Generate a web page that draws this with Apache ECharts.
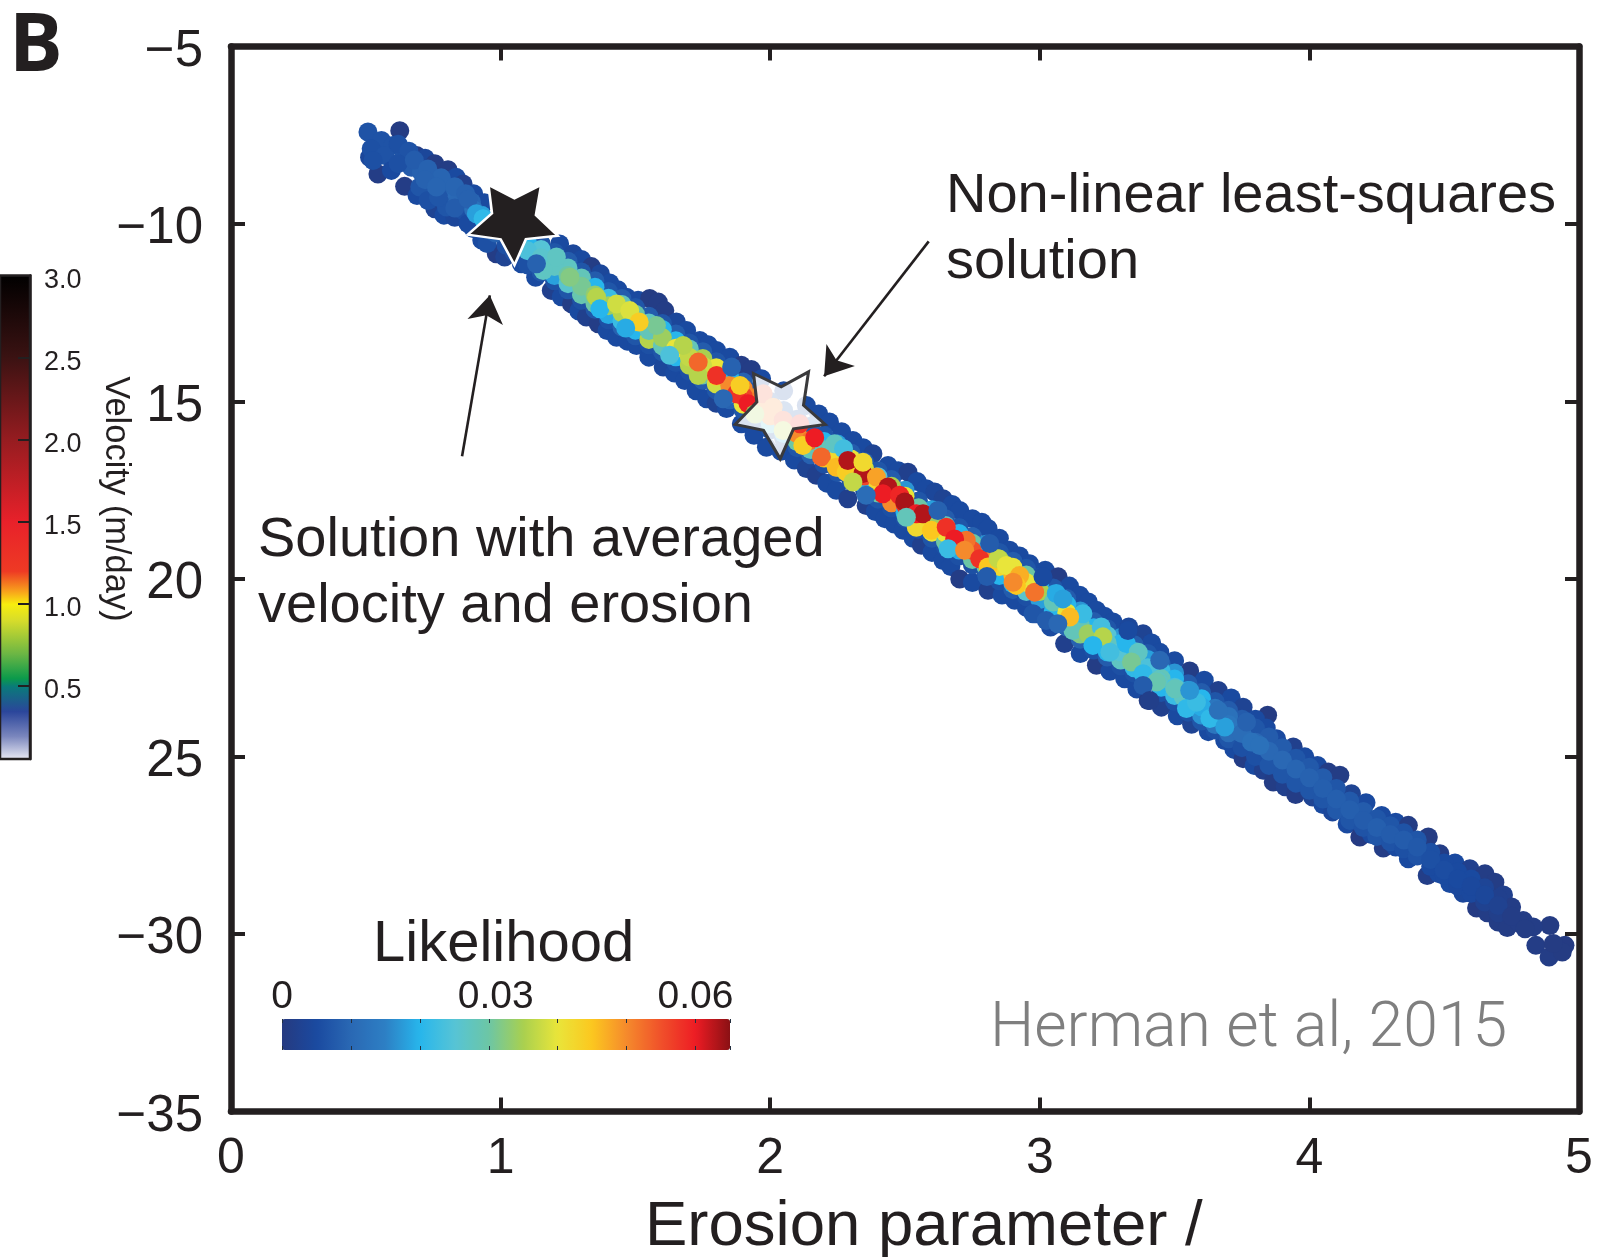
<!DOCTYPE html>
<html>
<head>
<meta charset="utf-8">
<style>html,body{margin:0;padding:0;background:#fff}#chart{width:1604px;height:1257px}</style>
<script src="https://cdn.jsdelivr.net/npm/echarts@6/dist/echarts.min.js"></script>
</head>
<body>
<div id="chart"></div>
<script>
// each point: [erosion parameter, log likelihood axis value, likelihood]
var edgeUpper = [
  [0.626,-7.37,0.0005],[0.688,-8.07,0.001],[0.72,-8.15,0.004],[0.756,-8.3,0.0008],[0.805,-8.47,0.0008],[0.835,-8.68,0.005],[0.861,-8.87,0.002],[0.9,-9.15,0.005],[0.94,-9.4,0.005],
  [1.219,-10.56,0.005],[1.269,-10.84,0.004],[1.3,-11.0,0.005],[1.337,-11.2,0.0008],[1.37,-11.4,0.004],[1.405,-11.66,0.005],[1.435,-11.85,0.005],[1.467,-12.06,0.005],[1.51,-12.15,0.005],[1.553,-12.1,0.0005],[1.585,-12.2,0.001],[1.609,-12.44,0.001],[1.652,-12.76,0.004],[1.69,-13.0,0.005],[1.739,-13.28,0.005],[1.77,-13.4,0.005],[1.801,-13.56,0.005],[1.85,-13.75,0.005],[1.893,-13.98,0.001],[1.93,-14.1,0.001],[1.968,-14.36,0.005],
  [2.05,-14.7,0.005],[2.134,-15.11,0.005],[2.18,-15.35,0.005],[2.22,-15.58,0.005],[2.265,-15.85,0.005],[2.307,-16.1,0.005],[2.345,-16.3,0.005],[2.381,-16.47,0.003],[2.437,-16.8,0.005],[2.475,-16.95,0.005],[2.511,-16.99,0.002],[2.545,-17.25,0.005],[2.579,-17.46,0.005],[2.61,-17.55,0.004],[2.641,-17.74,0.003],[2.675,-17.9,0.005],[2.703,-18.07,0.005],[2.75,-18.3,0.005],[2.785,-18.4,0.005],[2.808,-18.58,0.005],[2.85,-18.85,0.005],[2.888,-19.19,0.005],[2.925,-19.35,0.005],[2.962,-19.57,0.005],[3.02,-19.75,0.005],[3.068,-19.94,0.001],[3.11,-20.2,0.005],[3.148,-20.46,0.005],[3.18,-20.65,0.005],[3.21,-20.88,0.005],[3.24,-21.05,0.005],[3.272,-21.21,0.005],[3.33,-21.35,0.004],[3.383,-21.54,0.003],[3.415,-21.8,0.005],[3.445,-22.06,0.005],[3.5,-22.3,0.005],[3.556,-22.59,0.001],[3.61,-22.85,0.005],[3.662,-23.14,0.002],[3.71,-23.35,0.005],[3.754,-23.61,0.003],[3.845,-23.84,0.0003],[3.8,-23.95,0.005],[3.84,-24.2,0.005],[3.878,-24.5,0.005],[3.94,-24.73,0.002],[3.983,-25.01,0.005],[4.03,-25.25,0.005],[4.07,-25.44,0.001],[4.113,-25.53,0.0008],[4.156,-26.05,0.003],[4.21,-26.3,0.005],[4.268,-26.66,0.005],[4.32,-26.85,0.005],[4.367,-26.94,0.0008],[4.441,-27.27,0.0005],[4.484,-27.74,0.001],[4.54,-28.0,0.005],[4.595,-28.16,0.002],[4.651,-28.3,0.0008],[4.688,-28.54,0.0008],[4.72,-28.9,0.002],[4.75,-29.24,0.001],[4.793,-29.62,0.001],[4.892,-29.76,0.0005],[4.948,-30.32,0.0004]
];
var edgeLower = [
  [0.514,-8.12,0.004],[0.545,-8.59,0.001],[0.644,-8.94,0.001],[0.69,-9.2,0.005],[0.756,-9.57,0.003],[0.79,-9.75,0.005],[0.83,-9.81,0.004],[0.898,-10.13,0.005],[0.93,-10.45,0.005],[0.984,-10.84,0.001],[1.015,-10.93,0.003],[1.077,-11.12,0.005],
  [1.13,-11.5,0.005],[1.188,-11.87,0.002],[1.225,-12.05,0.005],[1.263,-12.25,0.001],[1.29,-12.45,0.005],[1.318,-12.62,0.002],[1.362,-12.81,0.001],[1.395,-13.0,0.005],[1.43,-13.19,0.005],[1.47,-13.3,0.005],[1.504,-13.42,0.005],[1.55,-13.75,0.005],[1.603,-14.03,0.004],[1.645,-14.2,0.005],[1.683,-14.41,0.005],[1.725,-14.7,0.005],[1.764,-14.92,0.005],[1.8,-15.05,0.003],[1.838,-15.2,0.005],[1.893,-15.63,0.005],[1.94,-15.95,0.005],[1.986,-16.29,0.005],[2.04,-16.4,0.005],[2.09,-16.65,0.005],[2.134,-16.89,0.003],[2.171,-17.08,0.002],[2.21,-17.3,0.005],[2.245,-17.5,0.005],[2.288,-17.74,0.002],[2.356,-17.93,0.002],[2.39,-18.1,0.005],[2.425,-18.3,0.005],[2.46,-18.45,0.005],[2.493,-18.63,0.005],[2.53,-18.85,0.005],[2.561,-19.05,0.002],[2.6,-19.25,0.005],[2.641,-19.48,0.005],[2.67,-19.65,0.005],[2.703,-20.0,0.001],[2.75,-20.1,0.005],[2.808,-20.32,0.002],[2.86,-20.45,0.005],[2.907,-20.6,0.005],[2.95,-20.8,0.005],[2.987,-20.98,0.005],[3.04,-21.35,0.005],[3.092,-21.82,0.002],[3.15,-22.1,0.005],[3.21,-22.43,0.0008],[3.26,-22.6,0.005],[3.315,-22.81,0.005],[3.36,-23.1,0.005],[3.402,-23.42,0.0008],[3.451,-23.61,0.002],[3.51,-23.85,0.005],[3.563,-24.09,0.003],[3.625,-24.3,0.005],[3.686,-24.55,0.005],[3.72,-24.8,0.005],[3.754,-25.06,0.001],[3.795,-25.25,0.005],[3.829,-25.39,0.002],[3.866,-25.72,0.0008],[3.91,-25.85,0.002],[3.949,-26.07,0.001],[4.012,-26.14,0.003],[4.05,-26.35,0.005],[4.086,-26.56,0.004],[4.14,-26.9,0.005],[4.187,-27.27,0.0004],[4.23,-27.2,0.005],[4.274,-27.58,0.001],[4.32,-27.55,0.005],[4.367,-27.88,0.005],[4.437,-28.35,0.0012],[4.48,-28.3,0.005],[4.521,-28.58,0.005],[4.57,-28.85,0.004],[4.62,-29.27,0.0004],[4.66,-29.4,0.001],[4.7,-29.66,0.0008],[4.734,-29.82,0.0008],[4.78,-29.7,0.001],[4.83,-29.8,0.001],[4.84,-30.32,0.001],[4.889,-30.65,0.001],[4.938,-30.51,0.0005],[4.905,-30.27,0.0005]
];
var bodyHead = [
  [0.508,-7.41,0.0065],[0.558,-7.65,0.0065],[0.601,-7.79,0.0065],[0.52,-7.88,0.006],[0.57,-8.07,0.0065],[0.527,-8.21,0.006],[0.595,-8.49,0.005],[0.638,-8.16,0.007],[0.669,-8.4,0.008],[0.706,-8.54,0.009],[0.7,-8.96,0.007],[0.731,-9.34,0.006],[0.768,-8.96,0.0095],[0.75,-8.7,0.009],[0.799,-9.52,0.007],[0.8,-8.95,0.009],[0.836,-9.15,0.0105],[0.861,-9.62,0.006],[0.84,-9.4,0.01],[0.892,-9.38,0.0095],[0.879,-9.99,0.005],[0.93,-9.75,0.018],[0.95,-9.95,0.02],[0.95,-10.55,0.006],[1.02,-10.6,0.006],[1.05,-10.8,0.006],
  [0.62,-7.75,0.006],[0.66,-7.95,0.0065],[0.62,-8.3,0.006],[0.68,-8.2,0.008],[0.73,-8.45,0.009],[0.78,-8.7,0.0095],[0.83,-8.95,0.0095],[0.87,-9.15,0.009],[0.9,-9.6,0.012],[0.72,-8.75,0.009],[0.77,-9.25,0.007],[0.83,-9.55,0.008],[0.88,-9.3,0.009]
];
var bodyUpper = [
  [1.1,-10.35,0.006],[1.15,-10.55,0.007],[1.2,-10.8,0.007],[1.25,-11.05,0.008],[1.3,-11.35,0.007],[1.35,-11.6,0.008],[1.4,-11.9,0.007],[1.45,-12.1,0.008],[1.5,-12.35,0.007],[1.55,-12.6,0.008],[1.6,-12.8,0.007],[1.65,-13.1,0.008],[1.7,-13.35,0.007],[1.75,-13.6,0.008],[1.8,-13.88,0.007],[1.85,-14.15,0.009],[1.9,-14.45,0.009],[1.95,-14.7,0.007],[2.0,-15.0,0.007],[2.05,-15.25,0.008],[2.1,-15.5,0.007],[2.15,-15.7,0.008],[2.2,-15.96,0.007],[2.25,-16.2,0.018],[2.3,-16.45,0.008],[2.35,-16.7,0.008],[2.4,-16.95,0.007],[2.45,-17.2,0.008],[2.5,-17.5,0.017],[2.55,-17.8,0.007],[2.6,-18.05,0.018],[2.65,-18.3,0.008],[2.7,-18.55,0.007],[2.75,-18.8,0.009],[2.8,-19.02,0.017],[2.85,-19.25,0.007],[2.9,-19.5,0.008],[2.95,-19.7,0.007],[3.0,-19.95,0.006],[3.05,-20.25,0.007],[3.1,-20.55,0.008],[3.15,-20.9,0.017],[3.2,-21.2,0.008],[3.25,-21.4,0.007],[3.3,-21.65,0.017],[3.35,-21.85,0.008],[3.4,-22.1,0.007],[3.45,-22.4,0.009],[3.5,-22.65,0.017],[3.55,-22.95,0.008],[3.6,-23.2,0.008],[3.65,-23.45,0.007],[3.7,-23.7,0.008],[3.75,-23.95,0.008],[3.8,-24.2,0.007],[3.85,-24.45,0.008],[3.9,-24.75,0.008],[3.95,-25.05,0.007],[4.0,-25.3,0.0075],[4.05,-25.6,0.008],[4.1,-25.9,0.007],[4.15,-26.25,0.0075],[4.2,-26.55,0.008],[4.25,-26.75,0.007],[4.3,-26.95,0.007],[4.35,-27.15,0.0065],[4.4,-27.35,0.007],[4.45,-27.7,0.006],[4.5,-28.0,0.005],[4.55,-28.25,0.005],[4.6,-28.45,0.005],[4.65,-28.7,0.0035],[4.7,-29.0,0.002]
];
var bodyLower = [
  [1.1,-11.15,0.006],[1.15,-11.35,0.007],[1.2,-11.6,0.006],[1.25,-11.85,0.007],[1.3,-12.15,0.006],[1.35,-12.4,0.007],[1.4,-12.7,0.006],[1.45,-12.9,0.009],[1.5,-13.15,0.007],[1.55,-13.4,0.006],[1.6,-13.6,0.007],[1.65,-13.9,0.006],[1.7,-14.15,0.006],[1.75,-14.4,0.008],[1.8,-14.68,0.007],[1.85,-14.95,0.009],[1.9,-15.25,0.007],[1.95,-15.5,0.006],[2.0,-15.8,0.006],[2.05,-16.05,0.006],[2.1,-16.3,0.007],[2.15,-16.5,0.009],[2.2,-16.76,0.006],[2.25,-17.0,0.007],[2.3,-17.25,0.006],[2.35,-17.5,0.006],[2.4,-17.75,0.007],[2.45,-18.0,0.006],[2.5,-18.3,0.006],[2.55,-18.6,0.006],[2.6,-18.85,0.007],[2.65,-19.1,0.006],[2.7,-19.35,0.006],[2.75,-19.6,0.006],[2.8,-19.82,0.007],[2.85,-20.05,0.006],[2.9,-20.3,0.008],[2.95,-20.5,0.006],[3.0,-20.75,0.007],[3.05,-21.05,0.009],[3.1,-21.35,0.009],[3.15,-21.7,0.009],[3.2,-22.0,0.006],[3.25,-22.2,0.008],[3.3,-22.45,0.006],[3.35,-22.65,0.006],[3.4,-22.9,0.007],[3.45,-23.2,0.006],[3.5,-23.45,0.006],[3.55,-23.75,0.006],[3.6,-24.0,0.007],[3.65,-24.25,0.006],[3.7,-24.5,0.007],[3.75,-24.75,0.006],[3.8,-25.0,0.006],[3.85,-25.25,0.007],[3.9,-25.5,0.007],[3.95,-25.75,0.007],[4.0,-25.95,0.007],[4.05,-26.2,0.007],[4.1,-26.5,0.0075],[4.15,-26.8,0.007],[4.2,-27.0,0.0065],[4.25,-27.25,0.007],[4.3,-27.4,0.0065],[4.35,-27.6,0.006],[4.4,-27.8,0.0065],[4.45,-28.1,0.005],[4.5,-28.35,0.005],[4.55,-28.65,0.0045],[4.6,-28.85,0.0045],[4.65,-29.1,0.0025],[4.7,-29.4,0.0015]
];
var innerUpper = [
  [1.1,-10.55,0.02],[1.15,-10.72,0.025],[1.2,-10.98,0.027],[1.25,-11.24,0.027],[1.3,-11.52,0.028],[1.35,-11.78,0.02],[1.4,-12.09,0.022],[1.45,-12.27,0.028],[1.5,-12.54,0.03],[1.55,-12.79,0.027],[1.6,-12.97,0.02],[1.65,-13.29,0.02],[1.7,-13.52,0.028],[1.75,-13.79,0.035],[1.8,-14.05,0.04],[1.85,-14.33,0.02],[1.9,-14.63,0.05],[1.95,-14.88,0.05],
  [2.2,-16.13,0.02],[2.25,-16.38,0.025],[2.3,-16.62,0.04],[2.35,-16.89,0.038],[2.4,-17.12,0.025],[2.45,-17.39,0.035],[2.5,-17.67,0.04],[2.55,-17.99,0.03],[2.6,-18.22,0.045],[2.65,-18.49,0.028],[2.7,-18.72,0.02],[2.75,-18.99,0.03],[2.8,-19.19,0.02],[2.85,-19.44,0.035],[2.9,-19.67,0.04],[2.95,-19.89,0.03],[3.0,-20.12,0.02],[3.05,-20.44,0.018],[3.1,-20.72,0.02],[3.15,-21.09,0.022],[3.2,-21.37,0.02],[3.25,-21.59,0.025],[3.3,-21.82,0.02],[3.35,-22.04,0.025],[3.4,-22.27,0.018],[3.45,-22.59,0.022],[3.5,-22.82,0.02],[3.55,-23.14,0.019],[3.6,-23.37,0.02],[3.65,-23.64,0.013],[3.7,-23.87,0.012]
];
var innerLower = [
  [1.15,-11.18,0.02],[1.2,-11.45,0.018],[1.25,-11.68,0.026],[1.3,-11.99,0.029],[1.35,-12.24,0.03],[1.4,-12.55,0.019],[1.45,-12.73,0.022],[1.5,-12.99,0.02],[1.55,-13.25,0.036],[1.6,-13.43,0.028],[1.65,-13.74,0.02],[1.7,-13.98,0.036],[1.75,-14.25,0.03],[1.8,-14.51,0.038],[1.85,-14.79,0.02],[1.9,-15.08,0.04],[1.95,-15.35,0.03],[2.0,-15.63,0.025],[2.05,-15.9,0.02],[2.1,-16.13,0.03],[2.15,-16.35,0.028],[2.2,-16.59,0.045],[2.25,-16.85,0.03],[2.3,-17.08,0.04],[2.35,-17.35,0.02],[2.4,-17.58,0.03],[2.45,-17.85,0.05],[2.5,-18.13,0.02],[2.55,-18.45,0.019],[2.6,-18.68,0.04],[2.65,-18.95,0.03],[2.7,-19.18,0.019],[2.75,-19.45,0.03],[2.8,-19.65,0.03],[2.85,-19.9,0.02],[2.9,-20.13,0.02],[2.95,-20.35,0.026],[3.0,-20.58,0.018],[3.05,-20.9,0.02],[3.1,-21.18,0.027],[3.15,-21.55,0.032],[3.2,-21.83,0.028],[3.25,-22.05,0.02],[3.3,-22.28,0.027],[3.35,-22.5,0.021],[3.4,-22.73,0.02],[3.45,-23.05,0.02],[3.5,-23.28,0.022],[3.55,-23.6,0.018],[3.6,-23.83,0.017],[3.65,-24.1,0.013],[3.7,-24.33,0.011]
];
var midRow = [
  [0.98,-10.25,0.009],[1.1,-10.75,0.024],[1.15,-10.95,0.026],[1.2,-11.2,0.027],[1.25,-11.45,0.03],[1.3,-11.75,0.031],[1.35,-12.0,0.033],[1.4,-12.3,0.034],[1.45,-12.5,0.036],[1.5,-12.75,0.029],[1.55,-13.0,0.028],[1.6,-13.2,0.034],[1.65,-13.5,0.04],[1.7,-13.75,0.037],[1.75,-14.0,0.038],[1.8,-14.28,0.045],[1.85,-14.55,0.05],[1.9,-14.85,0.056],[1.95,-15.1,0.05],[2.0,-15.4,0.05],[2.05,-15.65,0.05],[2.1,-15.9,0.05],[2.15,-16.1,0.052],[2.2,-16.36,0.028],[2.25,-16.6,0.042],[2.3,-16.85,0.055],[2.35,-17.1,0.056],[2.4,-17.35,0.042],[2.45,-17.6,0.05],[2.5,-17.9,0.058],[2.55,-18.2,0.042],[2.6,-18.45,0.034],[2.65,-18.7,0.04],[2.7,-18.95,0.04],[2.75,-19.2,0.055],[2.8,-19.42,0.05],[2.85,-19.65,0.042],[2.9,-19.9,0.046],[2.95,-20.1,0.04],[3.0,-20.35,0.035],[3.05,-20.65,0.028],[3.1,-20.95,0.04],[3.15,-21.3,0.028],[3.2,-21.6,0.03],[3.25,-21.8,0.027],[3.3,-22.05,0.025],[3.35,-22.25,0.02],[3.4,-22.5,0.024],[3.45,-22.8,0.028],[3.5,-23.05,0.024],[3.55,-23.35,0.021],[3.6,-23.6,0.019],[3.65,-23.85,0.017],[3.7,-24.1,0.013],[3.75,-24.35,0.011],[3.8,-24.6,0.01],[3.85,-24.85,0.01],[3.9,-25.1,0.01],[3.95,-25.35,0.0095],[4.0,-25.6,0.009],[4.05,-25.9,0.0085],[4.1,-26.2,0.0085],[4.15,-26.5,0.0085],[4.2,-26.8,0.008],[4.25,-27.0,0.0085],[4.3,-27.2,0.008],[4.35,-27.35,0.008],[4.4,-27.55,0.0075],[4.45,-27.9,0.006],[4.5,-28.2,0.0055],[4.55,-28.45,0.005],[4.6,-28.65,0.0045],[4.65,-28.9,0.004],[4.7,-29.2,0.0025],[4.75,-29.5,0.001],[4.8,-29.85,0.0008]
];
var corePoints = [
  [0.762,-8.96,0.0095],[0.91,-9.71,0.018],[0.935,-9.85,0.021],[1.207,-10.93,0.027],[1.158,-11.31,0.027],[1.257,-11.5,0.032],[1.356,-12.06,0.036],[1.368,-12.39,0.02],[1.43,-12.25,0.038],[1.479,-12.44,0.039],[1.578,-12.86,0.031],[1.514,-12.76,0.044],[1.464,-12.93,0.019],[1.677,-13.42,0.036],[1.733,-14.27,0.036],[1.627,-13.7,0.024],[1.733,-13.89,0.053],[1.801,-14.27,0.058],[1.857,-14.03,0.009],[1.875,-14.78,0.058],[1.888,-14.55,0.044],[1.918,-15.06,0.06],[1.943,-15.35,0.035],[1.974,-14.78,0.055],[2.011,-15.16,0.05],[2.048,-15.53,0.055],[2.11,-15.63,0.058],[2.048,-15.82,0.037],
  [2.121,-16.24,0.044],[2.165,-16.02,0.06],[2.239,-16.19,0.027],[2.272,-16.33,0.023],[2.19,-16.56,0.053],[2.245,-16.85,0.046],[2.282,-16.99,0.044],[2.288,-16.66,0.063],[2.344,-17.03,0.063],[2.344,-16.71,0.042],[2.307,-17.27,0.037],[2.394,-17.13,0.048],[2.437,-17.41,0.063],[2.418,-17.6,0.06],[2.48,-17.64,0.059],[2.499,-17.83,0.0635],[2.542,-18.54,0.042],[2.542,-18.16,0.06],[2.567,-18.16,0.063],[2.505,-18.26,0.028],[2.598,-18.63,0.045],[2.653,-18.54,0.058],[2.727,-18.91,0.052],[2.684,-18.87,0.06],[2.66,-19.15,0.022],[2.721,-19.19,0.05],[2.777,-19.43,0.058],[2.808,-19.66,0.045],[2.845,-19.43,0.037],[2.876,-19.62,0.04],[2.925,-19.9,0.047],[2.913,-20.18,0.045],[2.901,-20.09,0.05],[2.981,-20.37,0.052],[3.061,-20.41,0.019],[3.086,-20.56,0.018],[3.123,-21.45,0.028],[3.179,-21.54,0.034],[3.16,-20.98,0.022],[3.228,-21.35,0.023],[3.234,-21.63,0.036],[3.197,-21.87,0.02],[3.111,-21.07,0.046],[3.26,-22.06,0.023],[3.321,-21.82,0.02],[3.365,-22.06,0.027],[3.34,-22.34,0.031],[3.383,-22.67,0.021],[3.439,-22.86,0.027],[3.433,-22.9,0.029],[3.507,-23.09,0.026],[3.532,-23.32,0.027],[3.501,-23.09,0.028],[3.544,-23.65,0.021],[3.581,-23.47,0.022],[3.556,-23.14,0.017],[3.631,-23.93,0.021],[3.686,-24.17,0.018],[3.662,-23.7,0.012],[3.785,-24.59,0.012],[3.816,-24.69,0.012]
];
var topPoints = [
  [1.133,-11.12,0.009],[1.826,-14.92,0.01],[2.356,-17.64,0.011],[2.622,-18.07,0.009],[2.814,-19.0,0.008],[2.804,-19.93,0.008],[2.975,-20.98,0.007],[3.024,-21.17,0.008],[3.067,-21.26,0.01],[3.012,-19.94,0.005],[3.327,-21.45,0.005],[3.383,-23.0,0.008],[3.408,-23.42,0.0015],[3.445,-22.29,0.01],[3.767,-24.03,0.009]
];
var blackStar = [[1.045, -10.03]];
var whiteStar = [[2.037, -15.39]];

var xTicks = ["0", "1", "2", "3", "4", "5"];
var yTicks = {"-35": "\u221235", "-30": "\u221230", "-25": "25", "-20": "20", "-15": "15", "-10": "\u221210", "-5": "\u22125"};
var likelihoodTicks = [0, 0.031, 0.06];
var velocityTicks = [0.5, 1, 1.5, 2, 2.5];
var velocityLabels = [0.5, 1, 1.5, 2, 2.5, 3];
var likelihoodColors = ["#263a80", "#1a4aa0", "#2a68b4", "#2d7fc4", "#27b6ec", "#56c4d6", "#6cc6a5", "#a9d04f", "#e9e53a", "#fcc71f", "#f58a2c", "#f0502a", "#ed1c24", "#8a1014"];
var velocityStops = [0.055, 0.2, 0.35, 0.5, 0.55, 0.7, 0.9, 1.0, 1.08, 1.2, 1.5, 2.0, 2.5, 3.0];
var velocityColors = ["#eeeef6", "#7a86bd", "#2b469b", "#0a7a7a", "#0b9a4b", "#6cb644", "#d6dc2b", "#f8ed0e", "#f8a01c", "#ee3a24", "#e8212a", "#951c20", "#3a1212", "#000000"];

var ink = "#231f20";
var sans = "Liberation Sans";
var blackStarPath = "path://M445,258 L520,297 L597,258 L582,345 L645,405 L553,415 L520,490 L480,415 L385,402 L455,340Z";
var whiteStarPath = "path://M1235,820 L1318,860 L1400,815 L1385,915 L1450,972 L1355,985 L1315,1075 L1265,990 L1180,972 L1245,905Z";

// y is the text baseline, zrender places text from its top
function text(str, x, y, size, fill, family, weight) {
  return {type: "text", z: 20, silent: true, style: {
    x: x, y: y - size * 0.77, text: str, fontFamily: family || sans, fontWeight: weight || "normal",
    fontSize: size, fill: fill || ink, textBaseline: "top"
  }};
}

var velocityGradient = new echarts.graphic.LinearGradient(0, 0, 0, 1, velocityStops.map(function (v, i) {
  return {offset: (3 - v) / (3 - 0.055), color: velocityColors[i]};
}).reverse());

var frameLine = {show: true, onZero: false, lineStyle: {color: ink, width: 6.5}};
var frameTick = {inside: true, length: 14, lineStyle: {color: ink, width: 4}};

var myChart = echarts.init(document.getElementById("chart"));
var option = {
  animation: false,
  backgroundColor: "#fff",
  grid: [
    {left: 231, top: 46.5, width: 1348, height: 1065},
    {left: 282, top: 1019, width: 448, height: 31},
    {left: -10, top: 275.5, width: 40, height: 483.5, show: true, backgroundColor: velocityGradient, borderColor: ink, borderWidth: 2.5}
  ],
  xAxis: [
    {gridIndex: 0, type: "value", position: "bottom", min: 0, max: 5, interval: 1, z: 5,
      axisLine: frameLine, axisTick: frameTick,
      axisLabel: {margin: 23, fontFamily: sans, fontSize: 50, color: ink, formatter: function (v) { return xTicks[v]; }},
      splitLine: {show: false}},
    {gridIndex: 0, type: "value", position: "top", min: 0, max: 5, interval: 1, z: 5,
      axisLine: frameLine, axisTick: frameTick,
      axisLabel: {show: false}, splitLine: {show: false}},
    {gridIndex: 1, type: "value", position: "top", min: 0, max: 0.065, interval: 0.01, z: 6,
      axisLine: {show: false, onZero: false},
      axisTick: {inside: true, length: 4, lineStyle: {color: "#243040", width: 1}},
      axisLabel: {margin: 2, fontFamily: sans, fontSize: 39, color: ink, customValues: likelihoodTicks, formatter: function (v) { return v === 0 ? "0" : v.toFixed(2); }},
      splitLine: {show: false}},
    {gridIndex: 1, type: "value", position: "bottom", min: 0, max: 0.065, interval: 0.01, z: 6,
      axisLine: {show: false, onZero: false},
      axisTick: {inside: true, length: 4, lineStyle: {color: "#243040", width: 1}},
      axisLabel: {show: false}, splitLine: {show: false}},
    {gridIndex: 2, type: "value", show: false, min: 0, max: 1}
  ],
  yAxis: [
    {gridIndex: 0, type: "value", position: "left", min: -35, max: -5, interval: 5, z: 5,
      axisLine: frameLine, axisTick: frameTick,
      axisLabel: {margin: 28, verticalAlign: "top", lineHeight: 10, fontFamily: sans, fontSize: 51, color: ink, formatter: function (v) { return yTicks[v]; }},
      splitLine: {show: false}},
    {gridIndex: 0, type: "value", position: "right", min: -35, max: -5, interval: 5, z: 5,
      axisLine: frameLine, axisTick: frameTick,
      axisLabel: {show: false}, splitLine: {show: false}},
    {gridIndex: 1, type: "value", show: false, min: 0, max: 1},
    {gridIndex: 2, type: "value", position: "right", min: 0.055, max: 3,
      axisLine: {show: true, onZero: false, lineStyle: {color: ink, width: 2.5}},
      axisTick: {inside: true, length: 12, lineStyle: {color: ink, width: 2}, customValues: velocityTicks},
      axisLabel: {margin: 14, verticalAlign: "top", lineHeight: 10, fontFamily: sans, fontSize: 27, color: ink, customValues: velocityLabels, formatter: function (v) { return v.toFixed(1); }},
      splitLine: {show: false}}
  ],
  visualMap: [{
    type: "continuous", seriesIndex: 0, dimension: 2, min: 0, max: 0.065, orient: "horizontal",
    left: 282, top: 1019, itemWidth: 31, itemHeight: 448, padding: 0, z: 1,
    calculable: false, hoverLink: false, text: null, inRange: {color: likelihoodColors}
  }],
  series: [
    {
      type: "scatter", xAxisIndex: 0, yAxisIndex: 0, symbolSize: 19, silent: true, z: 2,
      itemStyle: {opacity: 1},
      data: edgeUpper.concat(edgeLower, bodyHead, bodyUpper, bodyLower, innerUpper, innerLower, midRow, corePoints, topPoints)
    },
    {
      type: "scatter", xAxisIndex: 0, yAxisIndex: 0, symbol: blackStarPath, symbolSize: [90, 80], silent: true, z: 3,
      itemStyle: {color: ink, borderColor: "#fff", borderWidth: 2.5, opacity: 1},
      data: blackStar
    },
    {
      type: "scatter", xAxisIndex: 0, yAxisIndex: 0, symbol: whiteStarPath, symbolSize: [90, 87], silent: true, z: 3,
      itemStyle: {color: "rgba(255,255,255,0.84)", borderColor: "#3a3a3c", borderWidth: 3, opacity: 1},
      data: whiteStar,
      markLine: {
        silent: true, symbol: ["none", "arrow"], symbolSize: 27,
        lineStyle: {color: ink, width: 2.6, type: "solid"}, label: {show: false},
        data: [
          [{coord: [0.857, -16.54]}, {coord: [0.96, -12.01]}],
          [{coord: [2.588, -10.49]}, {coord: [2.2, -14.29]}]
        ]
      }
    }
  ],
  graphic: [
    text("B", 9, 70, 80, ink, "Open Sans", "bold"),
    text("Non-linear least-squares", 946, 212, 56),
    text("solution", 946, 278, 56),
    text("Solution with averaged", 258, 556, 56),
    text("velocity and erosion", 258, 622, 56),
    text("Likelihood", 373, 961, 58),
    text("Herman et al, 2015", 990, 1047, 62.5, "#7f7f7f", "Roboto", 300),
    text("Erosion parameter /", 645, 1244, 63.5),
    {type: "text", z: 20, silent: true, x: 133, y: 499, rotation: -Math.PI / 2,
      style: {x: 0, y: 0, text: "Velocity (m/day)", fontFamily: sans, fontSize: 34.5, fill: ink, textAlign: "center", textBaseline: "middle"}}
  ]
};
myChart.setOption(option);
</script>
</body>
</html>
